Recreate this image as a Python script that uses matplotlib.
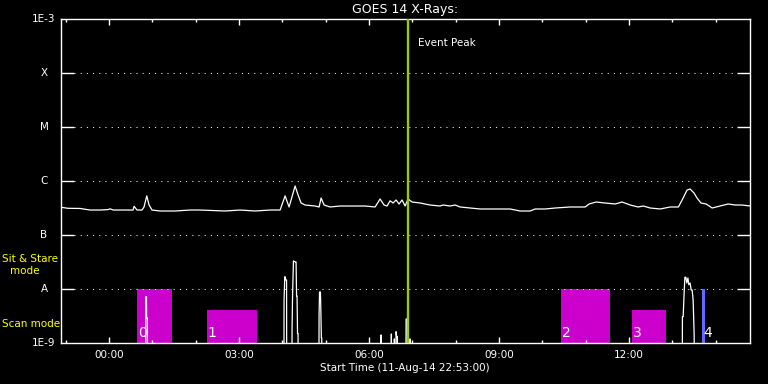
import matplotlib
matplotlib.use("Agg")
import matplotlib.pyplot as plt
import matplotlib.transforms as mtransforms

# GOES long channel (hours from 00:00 on 12-Aug-14, flux W/m^2)
goes_hours = [-1.105, -0.944, -0.667, -0.436, -0.205, -0.02, 0.025, 0.10, 0.257, 0.45,
              0.557, 0.58, 0.649, 0.764, 0.81, 0.873, 0.926, 0.995, 1.18, 1.526,
              1.872, 2.103, 2.68, 3.026, 3.373, 3.719, 3.95, 4.065, 4.157, 4.296,
              4.365, 4.434, 4.526, 4.757, 4.85, 4.896, 4.965, 5.103, 5.334, 5.565,
              5.911, 6.142, 6.257, 6.349, 6.418, 6.488, 6.557, 6.626, 6.695, 6.764,
              6.834, 6.903, 6.995, 7.18, 7.411, 7.641, 7.71, 7.872, 7.988, 8.103,
              8.334, 8.565, 8.957, 9.257, 9.488, 9.719, 9.834, 10.065, 10.296, 10.642,
              10.988, 11.08, 11.242, 11.45, 11.68, 11.84, 12.03, 12.21, 12.33, 12.49,
              12.72, 12.95, 13.14, 13.25, 13.34, 13.41, 13.5, 13.57, 13.66, 13.78,
              13.92, 14.1, 14.29, 14.45, 14.61, 14.8]
goes_flux = [3.26e-7, 3.12e-7, 3.10e-7, 2.90e-7, 2.90e-7, 2.95e-7, 3.05e-7, 2.90e-7, 2.90e-7, 2.90e-7,
             2.90e-7, 3.40e-7, 2.90e-7, 2.90e-7, 3.30e-7, 5.30e-7, 3.59e-7, 2.90e-7, 2.78e-7, 2.78e-7,
             2.90e-7, 2.90e-7, 2.78e-7, 2.90e-7, 2.78e-7, 2.90e-7, 2.90e-7, 5.30e-7, 3.30e-7, 8.07e-7,
             5.50e-7, 3.91e-7, 3.59e-7, 3.44e-7, 3.30e-7, 4.84e-7, 3.59e-7, 3.30e-7, 3.44e-7, 3.44e-7,
             3.44e-7, 3.30e-7, 4.64e-7, 3.59e-7, 3.44e-7, 4.30e-7, 3.91e-7, 4.45e-7, 3.75e-7, 4.45e-7,
             3.44e-7, 4.64e-7, 4.08e-7, 3.91e-7, 3.59e-7, 3.44e-7, 3.59e-7, 3.44e-7, 3.59e-7, 3.30e-7,
             3.16e-7, 3.03e-7, 3.03e-7, 3.03e-7, 2.78e-7, 2.78e-7, 3.03e-7, 3.03e-7, 3.16e-7, 3.30e-7,
             3.30e-7, 3.75e-7, 4.08e-7, 3.91e-7, 3.75e-7, 4.08e-7, 3.59e-7, 3.30e-7, 3.44e-7, 3.16e-7,
             3.03e-7, 3.30e-7, 3.30e-7, 4.84e-7, 6.80e-7, 7.11e-7, 6.00e-7, 4.84e-7, 3.91e-7, 3.75e-7,
             3.16e-7, 3.44e-7, 3.75e-7, 3.59e-7, 3.59e-7, 3.44e-7]

# GOES short channel, mostly below the plot floor
short_hours = [-1.12, 0.846, 0.850, 0.866, 0.870, 0.888, 0.892,
               4.038, 4.041, 4.058, 4.064, 4.080, 4.099, 4.103,
               4.222, 4.226, 4.237, 4.258, 4.262, 4.300, 4.318, 4.330, 4.341, 4.352, 4.364, 4.370,
               4.845, 4.849, 4.860, 4.879, 4.885, 4.902, 4.910, 4.918,
               6.275, 6.280, 6.290, 6.510, 6.517, 6.525, 6.580, 6.587, 6.595,
               6.615, 6.626, 6.640, 6.656, 6.665, 6.850, 6.857, 6.887, 6.895, 6.945, 6.949, 6.955,
               13.228, 13.233, 13.250, 13.272, 13.290, 13.312, 13.335, 13.36, 13.38, 13.41,
               13.434, 13.457, 13.48, 13.503, 13.515, 14.8]
short_flux = [1e-10, 1e-10, 7.2e-9, 7.2e-9, 2.9e-9, 2.9e-9, 1e-10,
              1e-10, 6.3e-9, 1.69e-8, 1.69e-8, 1.47e-8, 1.47e-8, 1e-10,
              1e-10, 1.8e-9, 7.4e-9, 3.3e-8, 3.3e-8, 3.16e-8, 3.16e-8, 7.4e-9, 7.4e-9, 1.5e-9, 1.5e-9, 1e-10,
              1e-10, 3.3e-9, 8.8e-9, 8.8e-9, 6.3e-9, 1.24e-9, 1.24e-9, 1e-10,
              1e-10, 1.41e-9, 1e-10, 1e-10, 1.47e-9, 1e-10, 1e-10, 1.19e-9, 1e-10,
              1e-10, 1.62e-9, 1.31e-9, 1.31e-9, 1e-10, 1e-10, 2.78e-9, 2.78e-9, 1e-10, 1e-10, 1.19e-9, 1e-10,
              1e-10, 3.07e-9, 3.07e-9, 8.3e-9, 1.65e-8, 1.65e-8, 1.29e-8, 1.6e-8, 1.2e-8, 1.29e-8,
              9.6e-9, 9.6e-9, 6.3e-9, 1.5e-9, 1e-10, 1e-10]

# Observation blocks (start, end in hours, top level)
bar_start = [0.649, 2.264, 10.434, 12.07, 13.69]
bar_end = [1.45, 3.41, 11.558, 12.85, 13.75]
bar_top = [1e-8, 4.1e-9, 1e-8, 4.1e-9, 1e-8]
bar_colors = ["#cc00cc", "#cc00cc", "#cc00cc", "#cc00cc", "#6666ff"]
bar_labels = ["0", "1", "2", "3", "4"]

event_hour = 6.896

class_levels = [1e-3, 1e-4, 1e-5, 1e-6, 1e-7, 1e-8, 1e-9]
class_labels = ["1E-3", "X", "M", "C", "B", "A", "1E-9"]
grid_levels = [1e-4, 1e-5, 1e-6, 1e-7, 1e-8]

time_ticks = [0, 3, 6, 9, 12]
time_labels = ["00:00", "03:00", "06:00", "09:00", "12:00"]
minor_ticks = [-1, 1, 2, 4, 5, 7, 8, 10, 11, 13, 14]

# -- figure and axes
fig = plt.figure(figsize=(7.68, 3.84), dpi=100, facecolor="black")
ax = fig.add_axes([0.0788, 0.1068, 0.8982, 0.84375])
ax.set_facecolor("black")
ax.set_yscale("log")
ax.set_xlim(-1.1167, 14.8)
ax.set_ylim(1e-9, 1e-3)

# -- observation blocks
for s, e, t, c in zip(bar_start, bar_end, bar_top, bar_colors):
    ax.bar(s, t - 1e-10, width=e - s, bottom=1e-10, align="edge", color=c, zorder=1)
for s, lab in zip(bar_start, bar_labels):
    ax.annotate(lab, xy=(s, 0), xycoords=("data", "axes fraction"),
                xytext=(0.5, 2.5), textcoords="offset points",
                color="white", fontsize=10, ha="left", va="bottom", zorder=5)

# -- dotted class lines
for lv in grid_levels:
    ax.axhline(lv, xmin=0.0196, xmax=0.9807, color="white",
               lw=0.72, ls=(0, (1, 5.2)), zorder=2)

# -- x-ray curves
ax.plot(goes_hours, goes_flux, color="white", lw=0.9, zorder=3)
ax.plot(short_hours, short_flux, color="white", lw=0.9, zorder=3)

# -- event peak
ax.axvline(event_hour, color="#99cc00", lw=1.7, zorder=4)
ax.annotate("Event Peak", xy=(event_hour, 0.926), xycoords=("data", "axes fraction"),
            xytext=(7, 0), textcoords="offset points",
            color="white", fontsize=7.5, va="center", ha="left")

# -- axes styling
for sp in ax.spines.values():
    sp.set_color("white")
    sp.set_linewidth(1.0)

ax.set_yticks(grid_levels)
ax.set_yticks([], minor=True)
ax.set_yticklabels([])
ax.tick_params(axis="y", which="major", direction="in", length=9.4, width=1.0,
               color="white", left=True, right=True)

ax.set_xticks(time_ticks)
ax.set_xticklabels(time_labels)
ax.set_xticks(minor_ticks, minor=True)
ax.tick_params(axis="x", which="major", direction="in", length=4.3, width=1.0,
               color="white", labelcolor="white", labelsize=7.5, pad=5,
               top=True, bottom=True)
ax.tick_params(axis="x", which="minor", direction="in", length=2.2, width=1.0,
               color="white", top=True, bottom=True)

# -- class labels at the left
trans = mtransforms.blended_transform_factory(ax.transAxes, ax.transData)
for lv, lab in zip(class_levels, class_labels):
    ax.text(-0.0239, lv, lab, transform=trans, color="white", fontsize=7.5,
            ha="center", va="center")

# -- mode labels
fig.text(2 / 768, 1 - 259 / 384, "Sit & Stare", color="yellow", fontsize=7.5,
         ha="left", va="center")
fig.text(24.5 / 768, 1 - 271 / 384, "mode", color="yellow", fontsize=7.5,
         ha="center", va="center")
fig.text(2 / 768, 1 - 324 / 384, "Scan mode", color="yellow", fontsize=7.5,
         ha="left", va="center")

# -- title and x label
ax.set_title("GOES 14 X-Rays:", color="white", fontsize=9, pad=4)
fig.text(405 / 768, 1 - 368 / 384, "Start Time (11-Aug-14 22:53:00)",
         color="white", fontsize=7.5, ha="center", va="center")

fig.savefig("out.png", dpi=100, facecolor="black")
